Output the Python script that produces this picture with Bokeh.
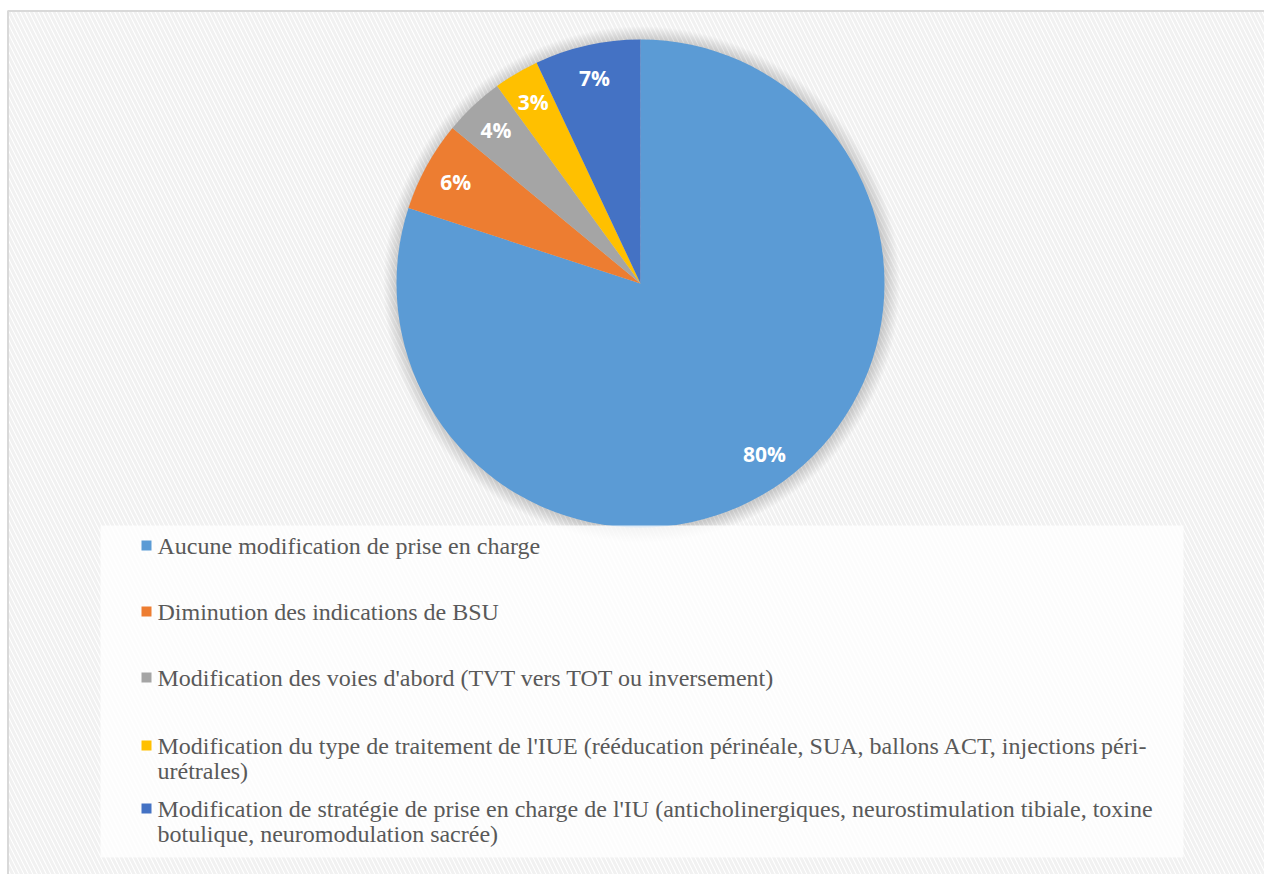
import math
from bokeh.plotting import figure
from bokeh.models import ColumnDataSource, Range1d
from bokeh.core.properties import value
from bokeh.embed import file_html
from bokeh.resources import INLINE

# ---- data ----
categories = [
    "Aucune modification de prise en charge",
    "Diminution des indications de BSU",
    "Modification des voies d'abord (TVT vers TOT ou inversement)",
    "Modification du type de traitement de l'IUE (rééducation périnéale, SUA, ballons ACT, injections péri-\nurétrales)",
    "Modification de stratégie de prise en charge de l'IU (anticholinergiques, neurostimulation tibiale, toxine\nbotulique, neuromodulation sacrée)",
]
values = [80, 6, 4, 3, 7]
colors = ["#5B9BD5", "#ED7D31", "#A5A5A5", "#FFC000", "#4472C4"]

# ---- layout (image pixel coordinates) ----
W, H = 1264, 874


def Y(py):
    return H - py


p = figure(width=W, height=H, output_backend="svg", toolbar_location=None,
           x_range=Range1d(0, W), y_range=Range1d(0, H),
           x_axis_type=None, y_axis_type=None, min_border=0)
p.grid.visible = False
p.outline_line_color = None
p.background_fill_color = "white"
p.border_fill_color = "white"

# hatched chart-area background
p.quad(left=[7], right=[W], top=[Y(10)], bottom=[Y(H)],
       fill_color="white", line_color=None,
       hatch_pattern="\\", hatch_color="#f1f1f1", hatch_weight=3, hatch_scale=9)
# chart border (left and top visible)
p.line(x=[7.5, 7.5, W], y=[Y(H), Y(10.5), Y(10.5)], line_color="#d9d9d9", line_width=2)

# pie
cx, cy, r = 640, Y(283), 244
# soft shadow
for k in range(14, 0, -1):
    p.circle(x=[cx + 1], y=[cy - 1], radius=r + k, fill_color="black",
             fill_alpha=0.013, line_color=None)

total = sum(values)
starts, ends, lx, ly, labels = [], [], [], [], []
cum = 0.0
for v in values:
    c0 = cum / total * 2 * math.pi
    cum += v
    c1 = cum / total * 2 * math.pi
    starts.append(math.pi / 2 - c1)
    ends.append(math.pi / 2 - c0)
    mid = (c0 + c1) / 2
    lr = 211
    lx.append(cx + lr * math.sin(mid))
    ly.append(cy + lr * math.cos(mid))
    labels.append(f"{v}%")

src = ColumnDataSource(dict(start=starts, end=ends, color=colors, lx=lx, ly=ly, lab=labels))
p.wedge(x=cx, y=cy, radius=r, start_angle="start", end_angle="end",
        fill_color="color", line_color=None, source=src)
p.text(x="lx", y="ly", text="lab", source=src, text_color="white",
       text_font=value("Open Sans"), text_font_style="bold", text_font_size="21px",
       text_align="center", text_baseline="middle")

# legend box
p.quad(left=[100], right=[1183], top=[Y(525)], bottom=[Y(857)],
       fill_color="white", fill_alpha=0.8, line_color=None)

row_y = [545, 611, 677, 745, 808]
line_gap = 25
sq_x, sq_y, txt_x, txt_y, txt = [], [], [], [], []
for cat, ry in zip(categories, row_y):
    sq_x.append(146)
    sq_y.append(Y(ry))
    for i, ln in enumerate(cat.split("\n")):
        txt_x.append(157)
        txt_y.append(Y(ry + i * line_gap))
        txt.append(ln)

p.rect(x=sq_x, y=sq_y, width=10, height=10, fill_color=colors, line_color=None)
p.text(x=txt_x, y=txt_y, text=txt, text_color="#595959",
       text_font=value("Liberation Serif"), text_font_size="24px",
       text_align="left", text_baseline="middle")

open("out.html", "w").write(file_html(p, INLINE))
